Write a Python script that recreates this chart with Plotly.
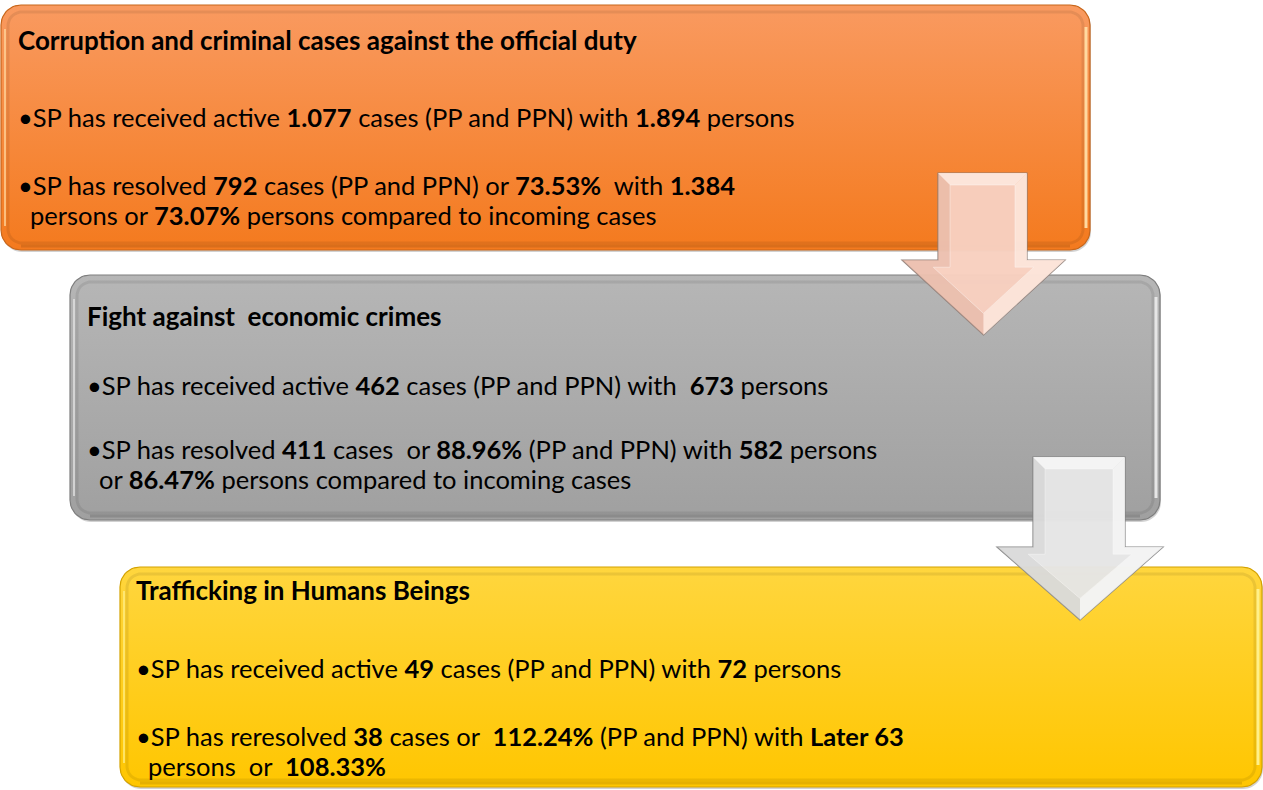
import numpy as np
import plotly.graph_objects as go

W, H = 1263, 790

# ---- content -------------------------------------------------------------
titles = [
    "Corruption and criminal cases against the official duty",
    "Fight against\u00a0 economic crimes",
    "Trafficking in Humans Beings",
]
lines_box1 = [
    "•SP has received active <b>1.077</b> cases (PP and PPN) with <b>1.894</b> persons",
    "•SP has resolved <b>792</b> cases (PP and PPN) or <b>73.53%</b>\u00a0 with <b>1.384</b>",
    "persons or <b>73.07%</b> persons compared to incoming cases",
]
lines_box2 = [
    "•SP has received active <b>462</b> cases (PP and PPN) with\u00a0 <b>673</b> persons",
    "•SP has resolved <b>411</b> cases\u00a0 or <b>88.96%</b> (PP and PPN) with <b>582</b> persons",
    "or <b>86.47%</b> persons compared to incoming cases",
]
lines_box3 = [
    "•SP has received active <b>49</b> cases (PP and PPN) with <b>72</b> persons",
    "•SP has reresolved <b>38</b> cases or\u00a0 <b>112.24%</b> (PP and PPN) with <b>Later 63</b>",
    "persons\u00a0 or\u00a0 <b>108.33%</b>",
]
box_lines = [lines_box1, lines_box2, lines_box3]

# ---- layout geometry -----------------------------------------------------
boxes = [  # x0, y0, x1, y1
    (1, 5, 1090, 250),
    (70, 275, 1160, 520),
    (120, 567, 1262, 787),
]
box_colors = [  # top, bottom, border, highlight
    ("#F99A60", "#F47A1E", "#C8661A", "#FFD9A0"),
    ("#B6B6B6", "#A0A0A0", "#7E7E7E", "#E6E6E6"),
    ("#FFD63E", "#FFC600", "#D4A200", "#FFF08A"),
]
text_x = [16, 85, 134]
title_y = [40, 316, 590]
line_y = [(117, 185, 215), (385, 449, 479), (668, 736, 766)]
indent = 12

arrows = [  # shaft x0, shaft x1, top, head base y, head x0, head x1, tip y
    (938, 1027, 173, 260, 902, 1065, 335),
    (1033, 1125, 457, 547, 997, 1163, 620),
]
arrow_colors = [("#F8D0C0", "#FCE8DE", "#E2B2A0", "#8C7C76"),
                ("#E6E6E6", "#F6F6F6", "#CFCFCF", "#808080")]


def rounded_rect(x0, y0, x1, y1, r, n=12):
    xs, ys = [], []
    corners = [
        (x1 - r, y0 + r, -np.pi / 2, 0),
        (x1 - r, y1 - r, 0, np.pi / 2),
        (x0 + r, y1 - r, np.pi / 2, np.pi),
        (x0 + r, y0 + r, np.pi, 1.5 * np.pi),
    ]
    for cx, cy, a0, a1 in corners:
        t = np.linspace(a0, a1, n)
        xs += list(cx + r * np.cos(t))
        ys += list(cy + r * np.sin(t))
    xs.append(xs[0])
    ys.append(ys[0])
    return xs, ys


def rr_path(x0, y0, x1, y1, r):
    xs, ys = rounded_rect(x0, y0, x1, y1, r)
    return "M " + " L ".join(f"{x:.1f},{y:.1f}" for x, y in zip(xs, ys)) + " Z"


fig = go.Figure()
shapes = []

for (x0, y0, x1, y1), (ct, cb, cl, hl) in zip(boxes, box_colors):
    # soft shadow
    shapes.append(dict(type="path", path=rr_path(x0 + 1, y0 + 2, x1 + 1, y1 + 2, 20),
                       fillcolor="rgba(0,0,0,0.18)", line=dict(width=0), layer="below"))
    xs, ys = rounded_rect(x0, y0, x1, y1, 20)
    fig.add_trace(go.Scatter(
        x=xs, y=ys, mode="lines", fill="toself",
        fillgradient=dict(type="vertical", start=y0, stop=y1,
                          colorscale=[[0, ct], [1, cb]]),
        line=dict(color=cl, width=1.2), hoverinfo="skip", showlegend=False))
    # bevel: inner rim
    shapes.append(dict(type="path", path=rr_path(x0 + 7, y0 + 7, x1 - 7, y1 - 7, 14),
                       fillcolor="rgba(0,0,0,0)", line=dict(color="rgba(0,0,0,0.08)", width=3),
                       layer="above"))
    # right-edge highlight
    shapes.append(dict(type="line", x0=x1 - 4, x1=x1 - 4, y0=y0 + 22, y1=y1 - 22,
                       line=dict(color=hl, width=3), layer="above"))
    # left-edge highlight
    shapes.append(dict(type="line", x0=x0 + 4, x1=x0 + 4, y0=y0 + 24, y1=y1 - 24,
                       line=dict(color=hl, width=2), opacity=0.7, layer="above"))
    # bottom darker band
    shapes.append(dict(type="line", x0=x0 + 20, x1=x1 - 20, y0=y1 - 4, y1=y1 - 4,
                       line=dict(color=cl, width=3), opacity=0.6, layer="above"))

for (sx0, sx1, top, hb, hx0, hx1, tip), (fc, lc, dc, oc) in zip(arrows, arrow_colors):
    cx = (hx0 + hx1) / 2
    outer = [(sx0, top), (sx1, top), (sx1, hb), (hx1, hb), (cx, tip), (hx0, hb), (sx0, hb)]
    path = "M " + " L ".join(f"{x},{y}" for x, y in outer) + " Z"
    shapes.append(dict(type="path", path=path, fillcolor=fc, opacity=0.93,
                       line=dict(color=oc, width=1.2), layer="above"))
    d = 12
    inner = [(sx0 + d, top + d), (sx1 - d, top + d), (sx1 - d, hb + d * 0.6),
             (hx1 - 2.6 * d, hb + d * 0.6), (cx, tip - 1.8 * d),
             (hx0 + 2.6 * d, hb + d * 0.6), (sx0 + d, hb + d * 0.6)]
    left_facet = [outer[0], inner[0], inner[6], inner[5], inner[4], outer[4], outer[5], outer[6]]
    shapes.append(dict(type="path",
                       path="M " + " L ".join(f"{x},{y}" for x, y in left_facet) + " Z",
                       fillcolor=dc, opacity=0.5, line=dict(width=0), layer="above"))
    right_facet = [outer[1], inner[1], inner[2], inner[3], inner[4], outer[4], outer[3], outer[2]]
    shapes.append(dict(type="path",
                       path="M " + " L ".join(f"{x},{y}" for x, y in right_facet) + " Z",
                       fillcolor=lc, opacity=0.8, line=dict(width=0), layer="above"))
    top_facet = [outer[0], outer[1], inner[1], inner[0]]
    shapes.append(dict(type="path",
                       path="M " + " L ".join(f"{x},{y}" for x, y in top_facet) + " Z",
                       fillcolor=lc, opacity=0.9, line=dict(width=0), layer="above"))
    shapes.append(dict(type="path",
                       path="M " + " L ".join(f"{x},{y}" for x, y in inner) + " Z",
                       fillcolor=fc, opacity=0.6, line=dict(color="rgba(255,255,255,0.6)", width=1),
                       layer="above"))

annotations = []
FONT = "Lato, 'Open Sans', sans-serif"
for i in range(3):
    annotations.append(dict(x=text_x[i], y=title_y[i], xref="x", yref="y",
                            text=f"<b>{titles[i]}</b>", showarrow=False,
                            xanchor="left", yanchor="middle",
                            font=dict(family=FONT, size=26, color="black")))
    for j, (t, yy) in enumerate(zip(box_lines[i], line_y[i])):
        annotations.append(dict(x=text_x[i] + (indent if j == 2 else 0), y=yy,
                                xref="x", yref="y", text=t, showarrow=False,
                                xanchor="left", yanchor="middle",
                                font=dict(family=FONT, size=25.5, color="black")))

fig.update_layout(
    width=W, height=H,
    margin=dict(l=0, r=0, t=0, b=0),
    paper_bgcolor="white", plot_bgcolor="white",
    xaxis=dict(range=[0, W], visible=False, fixedrange=True),
    yaxis=dict(range=[H, 0], visible=False, fixedrange=True),
    shapes=shapes, annotations=annotations, showlegend=False,
)
fig.write_html("out.html", config={"displayModeBar": False},
               post_script="document.body.style.margin='0px';document.body.style.overflow='hidden';")
